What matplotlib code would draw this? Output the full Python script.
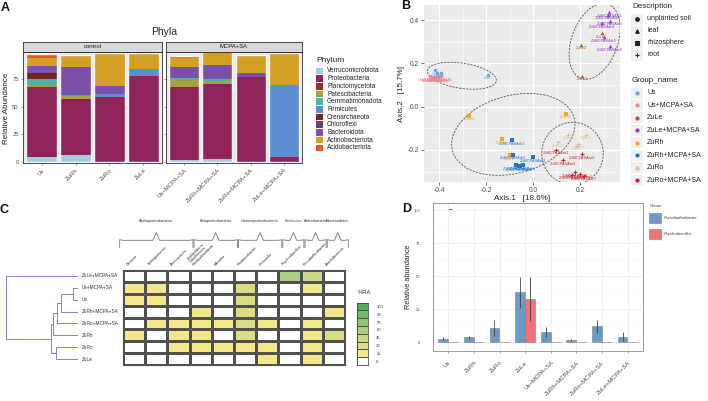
import numpy as np
import matplotlib
matplotlib.use("Agg")
import matplotlib.pyplot as plt
from matplotlib.patches import Ellipse, Rectangle
from matplotlib.lines import Line2D
from matplotlib.colors import ListedColormap, BoundaryNorm

plt.rcParams["font.family"] = ["Liberation Sans", "DejaVu Sans"]

W, H = 708, 401

# =========================
# A) phyla, stacked relative abundance
# =========================
phyla = ["Verrucomicrobiota", "Proteobacteria", "Planctomycetota", "Patescibacteria",
         "Gemmatimonadota", "Firmicutes", "Crenarchaeota", "Chloroflexi",
         "Bacteroidota", "Actinobacteriota", "Acidobacteriota"]
phyla_colors = ["#a6cbe3", "#8f2459", "#9a2d2d", "#a3a33b", "#4db3a7", "#5b8fd2",
                "#7a2226", "#6a3a72", "#7b50a9", "#d3a025", "#e4591f"]
control_samples = ["Us", "ZuRh", "ZuRo", "ZuLe"]
treated_samples = ["Us+MCPA+SA", "ZuRh+MCPA+SA", "ZuRo+MCPA+SA", "ZuLe+MCPA+SA"]
# values in phyla order (bottom -> top)
ab_us = [4.2, 63.3, 0, 2.5, 4.8, 0, 6.0, 0, 6.6, 6.7, 4.0]
ab_zurh = [6.4, 50.6, 0, 2.4, 0, 1.5, 0, 0, 25.0, 11.3, 0]
ab_zuro = [0, 58.5, 0, 0, 0, 3.0, 0, 0, 7.0, 30.3, 0]
ab_zule = [0, 78.2, 0, 0, 0, 6.3, 0, 0, 0, 14.3, 0]
ab_us_t = [1.8, 66.4, 0, 6.0, 1.8, 0, 0, 0, 10.3, 8.1, 1.9]
ab_zurh_t = [2.7, 68.2, 0, 2.7, 1.2, 0, 0, 0, 12.7, 12.7, 2.7]
ab_zuro_t = [0, 77.3, 0, 0, 0, 0, 0, 0, 3.6, 15.8, 0]
ab_zule_t = [0, 4.5, 0, 0, 0, 65.5, 0, 0, 0, 28.8, 0]
abundance = {"Us": ab_us, "ZuRh": ab_zurh, "ZuRo": ab_zuro, "ZuLe": ab_zule,
             "Us+MCPA+SA": ab_us_t, "ZuRh+MCPA+SA": ab_zurh_t,
             "ZuRo+MCPA+SA": ab_zuro_t, "ZuLe+MCPA+SA": ab_zule_t}

# =========================
# B) PCoA
# =========================
groups = ["Us", "Us+MCPA+SA", "ZuLe", "ZuLe+MCPA+SA", "ZuRh", "ZuRh+MCPA+SA", "ZuRo", "ZuRo+MCPA+SA"]
group_colors = ["#6aaad6", "#f3858c", "#a65a35", "#9a35d6", "#f6a524", "#1f74c6", "#d9c0a0", "#bf2a2e"]
group_desc = ["unplanted soil", "unplanted soil", "leaf", "leaf",
              "rhizosphere", "rhizosphere", "root", "root"]
desc_names = ["unplanted soil", "leaf", "rhizosphere", "root"]
desc_markers = ["o", "^", "s", "+"]

us_x = [-0.417, -0.407, -0.393, -0.193]
us_y = [0.168, 0.155, 0.158, 0.148]
us_lab = ["Us1", "Us2", "Us3", "Us4"]
ust_x = [-0.44, -0.43, -0.42, -0.41, -0.40, -0.39]
ust_y = [0.140, 0.136, 0.138, 0.142, 0.136, 0.140]
ust_lab = ["UsMCPASA1", "UsMCPASA2", "UsMCPASA3", "UsMCPASA4", "UsMCPASA5", "UsMCPASA6"]
zule_x = [0.292, 0.204, 0.21]
zule_y = [0.34, 0.286, 0.143]
zule_lab = ["ZuLe1", "ZuLe2", "ZuLe3"]
zulet_x = [0.325, 0.318, 0.328, 0.292, 0.30, 0.328]
zulet_y = [0.436, 0.425, 0.397, 0.386, 0.322, 0.279]
zulet_lab = ["ZuMCPASAle1", "ZuMCPASAle2", "ZuMCPASAle3", "ZuMCPASAle4", "ZuMCPASAle5", "ZuMCPASAle6"]
zurh_x = [-0.271, 0.14, -0.133, -0.098]
zurh_y = [-0.042, -0.032, -0.149, -0.225]
zurh_lab = ["ZuRh1", "ZuRh2", "ZuRh3", "ZuRh4"]
zurht_x = [-0.088, -0.084, 0.001, -0.072, -0.044, -0.061]
zurht_y = [-0.156, -0.222, -0.232, -0.271, -0.271, -0.276]
zurht_lab = ["ZuMCPASArh1", "ZuMCPASArh2", "ZuMCPASArh3", "ZuMCPASArh4", "ZuMCPASArh5", "ZuMCPASArh6"]
zuro_x = [0.15, 0.226, 0.105, 0.197, 0.186]
zuro_y = [-0.129, -0.129, -0.165, -0.171, -0.18]
zuro_lab = ["ZuRo1", "ZuRo2", "ZuRo3", "ZuRo4", "ZuRo5"]
zurot_x = [0.098, 0.207, 0.126, 0.179, 0.2, 0.165, 0.217]
zurot_y = [-0.199, -0.219, -0.248, -0.303, -0.309, -0.314, -0.319]
zurot_lab = ["ZuMCPASAro1", "ZuMCPASAro2", "ZuMCPASAro3", "ZuMCPASAro4",
             "ZuMCPASAro5", "ZuMCPASAro6", "ZuMCPASAro7"]
pcoa_x = [us_x, ust_x, zule_x, zulet_x, zurh_x, zurht_x, zuro_x, zurot_x]
pcoa_y = [us_y, ust_y, zule_y, zulet_y, zurh_y, zurht_y, zuro_y, zurot_y]
pcoa_lab = [us_lab, ust_lab, zule_lab, zulet_lab, zurh_lab, zurht_lab, zuro_lab, zurot_lab]

# 95% ellipses per description
ell_cx = [-0.303, 0.262, -0.084, 0.168]
ell_cy = [0.143, 0.302, -0.128, -0.216]
ell_w = [0.297, 0.362, 0.54, 0.262]
ell_h = [0.116, 0.198, 0.357, 0.288]
ell_ang = [-9.5, 72.8, 18.2, 0]

# =========================
# C) heatmap of genera
# =========================
genera = ["Devosia", "Sphingomonas", "Asticcacaulis",
          "Burkholderia-\nCaballeronia-\nParaburkholderia", "Massilia",
          "Rhodanobacter", "Klebsiella", "Psychrobacillus",
          "Pseudarthrobacter", "Arachidicoccus"]
classes = ["Alphaproteobacteria", "Betaproteobacteria", "Gammaproteobacteria",
           "Firmicutes", "Actinobacteria", "Bacteroidetes"]
class_first = [0, 3, 5, 7, 8, 9]
class_last = [2, 4, 6, 7, 8, 9]
heat_rows = ["ZuLe+MCPA+SA", "Us+MCPA+SA", "Us", "ZuRh+MCPA+SA",
             "ZuRo+MCPA+SA", "ZuRh", "ZuRo", "ZuLe"]
heat_values = [
    [0, 0, 0, 0, 0, 0, 0, 60, 45, 0],
    [15, 15, 0, 0, 0, 30, 0, 0, 15, 0],
    [15, 15, 0, 0, 0, 30, 0, 0, 0, 0],
    [0, 0, 0, 15, 0, 30, 0, 0, 0, 15],
    [0, 15, 15, 15, 15, 30, 15, 0, 15, 0],
    [15, 0, 15, 15, 0, 30, 0, 0, 15, 30],
    [0, 0, 15, 15, 15, 15, 15, 0, 15, 0],
    [0, 0, 0, 0, 0, 0, 15, 0, 15, 0],
]
ra_levels = [100, 90, 75, 60, 45, 30, 15, 0]
ra_colors = ["#ffffff", "#f3e78a", "#dcdc86", "#cbd884", "#acce80", "#8fc476", "#6fb96a", "#50ad5c"]
ra_bounds = [0, 7.5, 22.5, 37.5, 52.5, 67.5, 82.5, 95, 105]
# dendrogram merges: (left, right, height)
dendro_merges = [("Us+MCPA+SA", "Us", 5), ("m0", "ZuRh+MCPA+SA", 17.5),
                 ("m1", "ZuRo+MCPA+SA", 21), ("m2", "ZuRh", 25.5),
                 ("ZuRo", "ZuLe", 22), ("m3", "m4", 27),
                 ("ZuLe+MCPA+SA", "m5", 72)]

# =========================
# D) genus relative abundance
# =========================
d_groups = ["Us", "ZuRh", "ZuRo", "ZuLe", "Us+MCPA+SA", "ZuRh+MCPA+SA", "ZuRo+MCPA+SA", "ZuLe+MCPA+SA"]
pseud_mean = [2.5, 3.5, 10.9, 37.6, 7.6, 1.5, 12.0, 4.0]
pseud_err = [1.0, 1.0, 6.0, 11.7, 3.5, 0.7, 5.0, 3.5]
psych_mean = [0, 0, 0, 32.6, 0, 0, 0, 0]
psych_err = [0, 0, 0, 16.5, 0, 0, 0, 0]
odd_mark_y = 101


fig = plt.figure(figsize=(W / 100, H / 100), dpi=100)


def px_axes(x0, y0, x1, y1):
    return fig.add_axes([x0 / W, 1 - y1 / H, (x1 - x0) / W, (y1 - y0) / H])


def ftext(x, y, s, **kw):
    fig.text(x / W, 1 - y / H, s, **kw)


def frect(x, y, w, h, **kw):
    fig.add_artist(Rectangle((x / W, 1 - (y + h) / H), w / W, h / H,
                             transform=fig.transFigure, **kw))


# ---------- A ----------
facets = [("control", control_samples, 23, 162), ("MCPA+SA", treated_samples, 166, 302)]
for k, (facet, samples, x0, x1) in enumerate(facets):
    ax = px_axes(x0, 52, x1, 163.3)
    ax.set_facecolor("#ebebeb")
    xs = np.arange(len(samples))
    bottom = np.zeros(len(samples))
    for i, ph in enumerate(phyla):
        vals = np.array([abundance[s][i] for s in samples])
        ax.bar(xs, vals, bottom=bottom, width=0.9, color=phyla_colors[i], linewidth=0)
        bottom += vals
    ax.bar(xs, bottom, width=0.9, facecolor="none", edgecolor="#f4f4f4", linewidth=1.0)
    ax.set_xlim(-0.55, len(samples) - 0.45)
    ax.set_ylim(-1.45, 99.7)
    ax.set_xticks(xs)
    ax.set_xticklabels(samples, rotation=45, ha="right", rotation_mode="anchor",
                       fontsize=4.3, color="#4d4d4d")
    ax.set_yticks([0, 25, 50, 75])
    if k == 0:
        ax.set_yticklabels(["0", "25", "50", "75"], fontsize=4.3, color="#4d4d4d")
    else:
        ax.set_yticklabels([])
        ax.tick_params(axis="y", length=0)
    ax.tick_params(length=1.5, width=0.4, color="#555555", pad=1.5)
    for sp in ax.spines.values():
        sp.set_color("#333333")
        sp.set_linewidth(0.6)
    strip = px_axes(x0, 42, x1, 52)
    strip.set_facecolor("#d9d9d9")
    strip.set_xticks([])
    strip.set_yticks([])
    for sp in strip.spines.values():
        sp.set_color("#333333")
        sp.set_linewidth(0.6)
    strip.text(0.5, 0.5, facet, ha="center", va="center", fontsize=4.3, color="#1a1a1a")

ftext(164, 32, "Phyla", ha="center", va="center", fontsize=7.5, color="#222222")
ftext(7, 108, "Relative Abundance", ha="center", va="center", rotation=90,
      fontsize=5.8, color="#222222")
ftext(316, 60, "Phylum", ha="left", va="center", fontsize=6, color="#222222")
for i, ph in enumerate(phyla):
    yy = 71 + i * 7.67
    frect(316, yy - 3.2, 6.5, 6.4, facecolor=phyla_colors[i], edgecolor="none")
    ftext(327, yy, ph, ha="left", va="center", fontsize=4.7, color="#222222")

# ---------- B ----------
axb = px_axes(424, 5, 620, 182)
axb.set_facecolor("#ebebeb")
axb.set_axisbelow(True)
axb.set_xlim(-0.464, 0.37)
axb.set_ylim(-0.348, 0.47)
axb.set_xticks([-0.4, -0.2, 0.0, 0.2])
axb.set_yticks([-0.2, 0.0, 0.2, 0.4])
axb.set_xticks([-0.3, -0.1, 0.1, 0.3], minor=True)
axb.set_yticks([-0.3, -0.1, 0.1, 0.3], minor=True)
axb.set_xticklabels(["-0.4", "-0.2", "0.0", "0.2"])
axb.set_yticklabels(["-0.2", "0.0", "0.2", "0.4"])
axb.grid(which="major", color="white", linewidth=0.8)
axb.grid(which="minor", color="white", linewidth=0.4)
axb.tick_params(which="major", length=2, width=0.5, color="#333333", labelsize=4.8,
                labelcolor="#4d4d4d", pad=1.5)
axb.tick_params(which="minor", length=0)
for sp in axb.spines.values():
    sp.set_visible(False)
axb.set_xlabel("Axis.1   [18.6%]", fontsize=5.8, labelpad=1, color="#222222")
axb.set_ylabel("Axis.2   [15.7%]", fontsize=5.8, labelpad=2, color="#222222")

for cx, cy, w, h, a in zip(ell_cx, ell_cy, ell_w, ell_h, ell_ang):
    axb.add_patch(Ellipse((cx, cy), w, h, angle=a, fill=False, edgecolor="#555555",
                          linewidth=0.6, linestyle=(0, (2.5, 1.5))))

for g, col, desc, gx, gy, glab in zip(groups, group_colors, group_desc, pcoa_x, pcoa_y, pcoa_lab):
    m = desc_markers[desc_names.index(desc)]
    if m == "+":
        axb.scatter(gx, gy, marker=m, s=12, color=col, linewidths=0.8, zorder=3)
    else:
        axb.scatter(gx, gy, marker=m, s=7, color=col, linewidths=0, zorder=3)
    for x, y, lab in zip(gx, gy, glab):
        axb.annotate(lab, (x, y), xytext=(0, -1.2), textcoords="offset points",
                     ha="center", va="top", fontsize=2.8, color=col, zorder=4)

ftext(632, 6, "Description", ha="left", va="center", fontsize=5.8, color="#222222")
for i, (d, m) in enumerate(zip(desc_names, desc_markers)):
    yy = 19 + i * 12
    frect(631, yy - 5.5, 12, 11, facecolor="#f0f0f0", edgecolor="none")
    fig.add_artist(Line2D([637 / W], [1 - yy / H], marker=m, color="#222222",
                          markersize=2.6 if m != "+" else 3.5, markeredgewidth=0.8,
                          linestyle="none", transform=fig.transFigure))
    ftext(647, yy, d, ha="left", va="center", fontsize=5, color="#222222")

ftext(632, 81, "Group_name", ha="left", va="center", fontsize=5.8, color="#222222")
for i, (g, col) in enumerate(zip(groups, group_colors)):
    yy = 93 + i * 12.43
    frect(631, yy - 5.5, 12, 11, facecolor="#f0f0f0", edgecolor="none")
    fig.add_artist(Line2D([637 / W], [1 - yy / H], marker="o", color=col,
                          markersize=2.0, linestyle="none", transform=fig.transFigure))
    ftext(647, yy, g, ha="left", va="center", fontsize=5, color="#222222")

# ---------- C ----------
cmap = ListedColormap(ra_colors)
norm = BoundaryNorm(ra_bounds, cmap.N)
axh = px_axes(123, 270, 345, 365)
axh.pcolormesh(np.array(heat_values, dtype=float), cmap=cmap, norm=norm,
               edgecolors="#505050", linewidth=0.8)
axh.set_xlim(0, len(genera))
axh.set_ylim(len(heat_rows), 0)
axh.set_xticks([])
axh.set_yticks([])
for sp in axh.spines.values():
    sp.set_color("#505050")
    sp.set_linewidth(0.8)
for j, gname in enumerate(genera):
    axh.text(j + 0.22, -0.3, gname, rotation=45, ha="left", va="bottom",
             rotation_mode="anchor", fontsize=2.8, color="#333333",
             linespacing=0.9, clip_on=False)
for name, c0, c1 in zip(classes, class_first, class_last):
    xa = c0 + 0.2 - (0.35 if c0 == 0 else 0)
    xb = c1 + 1.15
    xm = (xa + xb) / 2
    yb, yh, yt = -1.9, -2.5, -3.15
    d = 0.15
    bx = [xa, xa, xa + d, xm - d, xm, xm + d, xb - d, xb, xb]
    by = [yb, yh - 0.05, yh, yh, yt, yh, yh, yh - 0.05, yb]
    axh.plot(bx, by, color="#777777", linewidth=0.6, clip_on=False)
    axh.text(xm, -4.1, name, ha="center", va="center", fontsize=2.8,
             color="#333333", clip_on=False)

# dendrogram
axd = px_axes(5, 270, 78, 365)
axd.set_xlim(73, 0)
axd.set_ylim(len(heat_rows), 0)
axd.axis("off")
pos = {name: i + 0.5 for i, name in enumerate(heat_rows)}
hgt = {name: 0.0 for name in heat_rows}
for k, (a, b, h) in enumerate(dendro_merges):
    axd.plot([hgt[a], h, h, hgt[b]], [pos[a], pos[a], pos[b], pos[b]],
             color="#8080dd", linewidth=0.7, solid_joinstyle="miter")
    pos["m%d" % k] = (pos[a] + pos[b]) / 2
    hgt["m%d" % k] = h
for name in heat_rows:
    axd.text(-4, pos[name], name, ha="left", va="center", fontsize=3.4,
             color="#333333", clip_on=False)

# %RA legend
axl = px_axes(357, 302.7, 368, 365)
axl.pcolormesh(np.array(ra_levels, dtype=float).reshape(-1, 1), cmap=cmap, norm=norm,
               edgecolors="#505050", linewidth=0.6)
axl.set_xlim(0, 1)
axl.set_ylim(len(ra_levels), 0)
axl.set_xticks([])
axl.yaxis.tick_right()
axl.set_yticks(np.arange(len(ra_levels)) + 0.5)
axl.set_yticklabels([str(v) for v in ra_levels], fontsize=3, color="#333333")
axl.tick_params(axis="y", length=0, pad=6)
for sp in axl.spines.values():
    sp.set_color("#505050")
    sp.set_linewidth(0.6)
ftext(358, 293, "%RA", ha="left", va="center", fontsize=4.2, color="#333333")

# ---------- D ----------
axD = px_axes(433, 203, 643, 351)
xd = np.arange(1, len(d_groups) + 1)
axD.bar(xd - 0.2, pseud_mean, width=0.38, color="#6b9ac6", edgecolor="#7f7f7f",
        linewidth=0.4, zorder=2)
axD.bar(xd + 0.2, psych_mean, width=0.38, color="#f2707a", edgecolor="#7f7f7f",
        linewidth=0.4, zorder=2)
axD.errorbar(xd - 0.2, pseud_mean, yerr=pseud_err, fmt="none", ecolor="#444444",
             elinewidth=0.6, capsize=0, zorder=3)
axD.errorbar(xd + 0.2, psych_mean, yerr=psych_err, fmt="none", ecolor="#444444",
             elinewidth=0.6, capsize=0, zorder=3)
axD.plot([xd[0] + 0.05], [odd_mark_y], marker="_", color="#555555", markersize=2.5,
         markeredgewidth=0.6, zorder=3)
axD.set_xlim(0.4, len(d_groups) + 0.6)
axD.set_ylim(-6.8, 105.5)
axD.set_xticks(xd)
axD.set_xticklabels(d_groups, rotation=45, ha="right", rotation_mode="anchor",
                    fontsize=4.3, color="#4d4d4d")
axD.set_yticks([0, 25, 50, 75, 100])
axD.set_yticks([12.5, 37.5, 62.5, 87.5], minor=True)
axD.set_yticklabels(["0", "25", "50", "75", "100"], fontsize=3, color="#4d4d4d")
axD.tick_params(axis="x", length=1.5, width=0.4, color="#777777", pad=5)
axD.tick_params(axis="y", length=0, pad=9)
axD.tick_params(which="minor", length=0)
axD.grid(which="major", color="#ebebeb", linewidth=0.5, zorder=0)
axD.grid(which="minor", axis="y", color="#f3f3f3", linewidth=0.3, zorder=0)
axD.set_axisbelow(True)
for sp in axD.spines.values():
    sp.set_color("#8a8a8a")
    sp.set_linewidth(0.6)
axD.set_ylabel("Relative abundance", fontsize=5.3, color="#222222", labelpad=1)

ftext(656, 206, "Genus", ha="center", va="center", fontsize=3, color="#333333")
frect(649, 213, 12, 10, facecolor="#6b9ac6", edgecolor="#7f7f7f", linewidth=0.4)
frect(649, 229, 12, 10, facecolor="#f2707a", edgecolor="#7f7f7f", linewidth=0.4)
ftext(664, 218, "Pseudarthrobacter", ha="left", va="center", fontsize=3,
      style="italic", color="#333333")
ftext(664, 234, "Psychrobacillus", ha="left", va="center", fontsize=3,
      style="italic", color="#333333")

# panel letters
for letter, lx, ly in [("A", 5, 8), ("B", 406, 6), ("C", 4, 210), ("D", 407, 209)]:
    ftext(lx, ly, letter, ha="center", va="center", fontsize=9, fontweight="bold",
          color="#111111")

fig.savefig("out.png", dpi=100)
